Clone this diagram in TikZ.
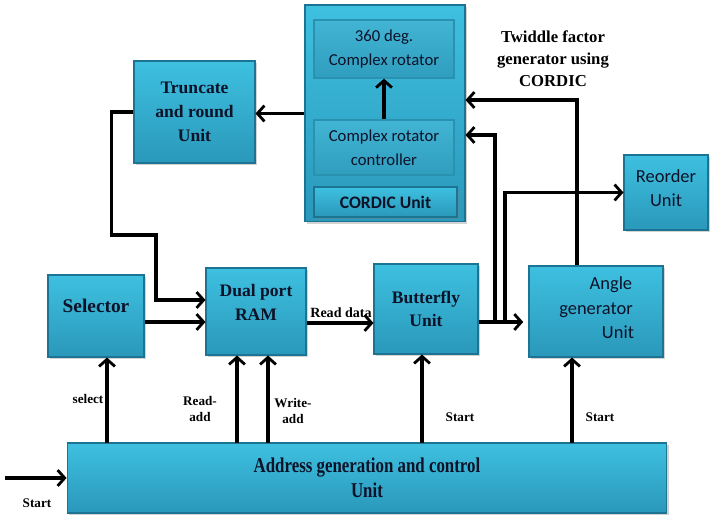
\documentclass[tikz,border=0pt]{standalone}
\usepackage{fontspec}
\setmainfont{Liberation Serif}
\newfontfamily\calibrifont{Carlito}
\newfontfamily\narrowfont[FakeStretch=0.8]{Liberation Serif}
\usetikzlibrary{arrows.meta,shadows}

\definecolor{boxtop}{RGB}{62,192,224}
\definecolor{boxbot}{RGB}{42,152,186}
\definecolor{boxedge}{RGB}{28,116,146}
\definecolor{innertop}{RGB}{66,180,212}
\definecolor{innerbot}{RGB}{48,158,190}
\definecolor{inkdark}{RGB}{12,18,40}

\begin{document}
\begin{tikzpicture}[x=0.02cm,y=-0.02cm,
		blk/.style={draw=boxedge,line width=0.6pt,top color=boxtop,bottom color=boxbot,
			drop shadow={opacity=0.35,shadow xshift=1.2pt,shadow yshift=-1.2pt},text=inkdark,
			font=\bfseries\fontsize{10}{13.5}\selectfont,align=center,inner sep=0pt},
		inblk/.style={draw=boxtop!40!boxedge,line width=0.8pt,top color=innertop,bottom color=innerbot,text=inkdark,
			font=\calibrifont\fontsize{9.5}{13.5}\selectfont,align=center,inner sep=0pt},
		arr/.style={line width=2pt,-{Straight Barb[length=4pt,width=9pt,line width=1.6pt]}},
		lbl/.style={font=\bfseries\fontsize{7.5}{9.5}\selectfont,align=center}]
	\useasboundingbox (0,0) rectangle (710,519);

	\node[blk,minimum width=3.2cm,minimum height=4.34cm] (cordic) at (385,113.5) {};
	\node[inblk,minimum width=2.8cm,minimum height=1.16cm] (rot) at (384,49) {360 deg.\\Complex rotator};
	\node[inblk,minimum width=2.8cm,minimum height=1.1cm] (ctrl) at (384,147.5) {Complex rotator\\controller};
	\node[blk,font=\calibrifont\bfseries\fontsize{10}{12}\selectfont,minimum width=2.86cm,minimum height=0.6cm] (cunit) at (385.5,202) {CORDIC Unit};
	\node[blk,minimum width=2.42cm,minimum height=2.04cm] (trunc) at (194.5,112) {Truncate\\and round\\Unit};
	\node[blk,font=\calibrifont\fontsize{10.5}{14}\selectfont,minimum width=1.68cm,minimum height=1.5cm,text depth=5pt] (reord) at (666,192.5) {Reorder\\Unit};
	\node[blk,font=\bfseries\fontsize{11}{13.5}\selectfont,minimum width=1.92cm,minimum height=1.64cm,text depth=12pt] (sel) at (96,316) {Selector};
	\node[blk,minimum width=2cm,minimum height=1.74cm,text depth=10pt] (ram) at (256,311.5) {Dual port\\RAM};
	\node[blk,minimum width=2.08cm,minimum height=1.8cm] (bfly) at (426,309) {Butterfly\\Unit};
	\node[blk,font=\calibrifont\fontsize{10.5}{14}\selectfont,minimum width=2.68cm,minimum height=1.82cm,text depth=4pt] (angle) at (596,311.5) {\hspace{17pt}Angle\\generator\\\hspace{25pt}Unit};
	\node[blk,font=\narrowfont\bfseries\fontsize{12}{14.5}\selectfont,minimum width=12cm,minimum height=1.4cm] (addr) at (367,478) {Address generation and control\\Unit};

	\node[lbl,font=\bfseries\fontsize{9.5}{12.5}\selectfont] (twid) at (553,59) {Twiddle factor\\generator using\\CORDIC};
	\node[lbl,font=\bfseries\fontsize{8}{9.5}\selectfont] (rdlbl) at (341,313) {Read data};
	\node[lbl] (sellbl) at (88,399) {select};
	\node[lbl] (ralbl) at (200,409) {Read-\\add};
	\node[lbl] (walbl) at (293,411) {Write-\\add};
	\node[lbl] (stlbl1) at (460,417) {Start};
	\node[lbl] (stlbl2) at (600,417) {Start};
	\node[lbl] (stlbl0) at (37,503) {Start};

	\coordinate (tapA) at (495,322);
	\coordinate (tapB) at (505,322);
	\coordinate (st) at (5,478);
	\coordinate (s1) at (107,443);
	\coordinate (s2) at (237,443);
	\coordinate (s3) at (268,443);
	\coordinate (s4) at (422,443);
	\coordinate (s5) at (572,443);

	\draw[arr] (ctrl.north) -- (rot.south);
	\draw[arr] (cordic.west) -- (cordic.west -| trunc.east);
	\draw[arr] (trunc.west) -- ++(-22,0) |- (156,235) |- ([yshift=0.23cm]ram.west);
	\draw[arr] ([yshift=-0.12cm]sel.east) -- ([yshift=-0.12cm]sel.east -| ram.west);
	\draw[arr] ([yshift=-0.23cm]ram.east) -- ([yshift=-0.23cm]ram.east -| bfly.west);
	\draw[arr] ([yshift=-0.26cm]bfly.east) -- ([yshift=-0.26cm,xshift=-3pt]bfly.east -| angle.west);
	\draw[arr] (tapA) |- ([yshift=-0.43cm]cordic.east);
	\draw[arr] (tapB) |- (reord.west);
	\draw[arr] ([xshift=-0.38cm]angle.north) |- ([yshift=0.27cm]cordic.east);
	\draw[arr] (s1) -- (s1 |- sel.south);
	\draw[arr] (s2) -- (s2 |- ram.south);
	\draw[arr] (s3) -- (s3 |- ram.south);
	\draw[arr] (s4) -- (s4 |- bfly.south);
	\draw[arr] (s5) -- (s5 |- angle.south);
	\draw[arr] (st) -- (addr.west);
\end{tikzpicture}
\end{document}
